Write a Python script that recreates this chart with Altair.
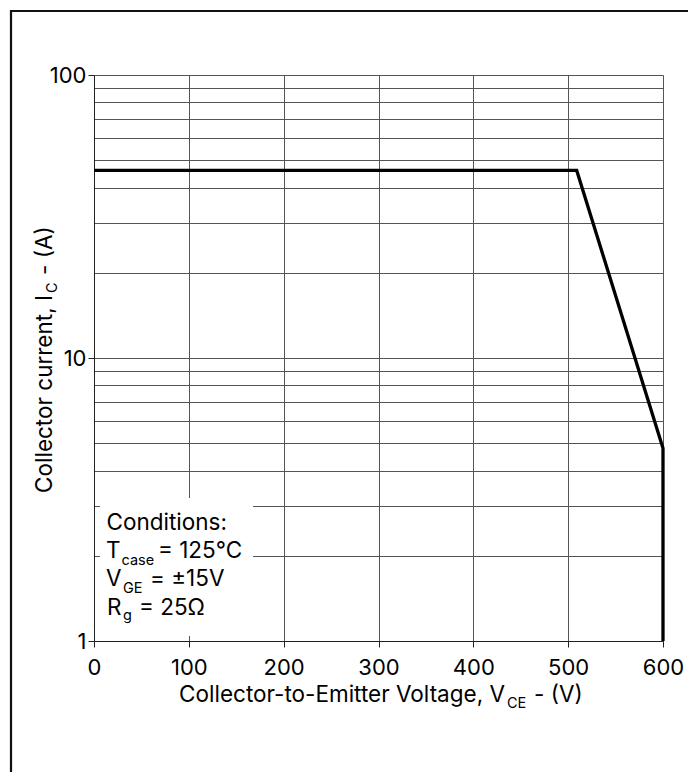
import altair as alt
import pandas as pd

# ---- data ----
vce = [0, 509, 600, 600]          # Collector-to-Emitter voltage (V)
ic = [46, 46, 4.8, 1]             # Collector current (A)
order = [0, 1, 2, 3]
x_ticks = [0, 100, 200, 300, 400, 500, 600]
y_grid = [1, 2, 3, 4, 5, 6, 7, 8, 9, 10, 20, 30, 40, 50, 60, 70, 80, 90, 100]
y_labels = [1, 10, 100]

df = pd.DataFrame({"vce": vce, "ic": ic, "order": order})

FONT = "Inter"
GRID = "#555555"
AXC = "#222222"
FS = 22
TS = 22.5
SUB = 14.5
W, H = 569, 566

xscale = alt.Scale(domain=[0, 600], nice=False, zero=False)
yscale = alt.Scale(type="log", domain=[1, 100], nice=False)

label_test = " || ".join(f"datum.value == {v}" for v in y_labels)

one = alt.Data(values=[{"k": 0}])

line = alt.Chart(df).mark_line(color="black", strokeWidth=3.3, strokeJoin="miter").encode(
    x=alt.X("vce:Q", scale=xscale,
            axis=alt.Axis(values=x_ticks, title=None, grid=True, gridColor=GRID, gridWidth=1,
                          tickSize=6, tickColor=AXC, domainColor=AXC, labelFont=FONT,
                          labelFontSize=FS, labelPadding=10, labelFlush=False,
                          labelColor="black", labelOverlap=False)),
    y=alt.Y("ic:Q", scale=yscale,
            axis=alt.Axis(values=y_grid, title=None, grid=True, gridColor=GRID, gridWidth=1,
                          tickSize=6, tickColor=AXC, domainColor=AXC, labelFont=FONT,
                          labelFontSize=FS, labelPadding=2, labelColor="black",
                          labelOverlap=False,
                          labelExpr=f"({label_test}) ? datum.label : ''",
                          tickOpacity={"condition": {"test": label_test, "value": 1}, "value": 0})),
    order="order:O",
)

# white background box for the conditions note
box = alt.Chart(one).mark_rect(color="white").encode(
    x=alt.value(6), x2=alt.value(159), y=alt.value(423), y2=alt.value(561)
)

# outer frame around the whole figure
frame = alt.Chart(one).mark_rect(fillOpacity=0, stroke="#111111", strokeWidth=2.2).encode(
    x=alt.value(-83), x2=alt.value(597), y=alt.value(-64), y2=alt.value(730)
)


def txt(s, x, y, size=TS, align="left", angle=0):
    kw = dict(text=s, font=FONT, fontSize=size, align=align, baseline="alphabetic", color="black")
    if angle:
        kw["angle"] = angle
    return alt.Chart(one).mark_text(**kw).encode(x=alt.value(x), y=alt.value(y))


texts = [
    # x-axis title
    txt("Collector-to-Emitter Voltage, V", 411, 627, align="right"),
    txt("CE", 413, 633, size=SUB),
    txt("- (V)", 440, 627),
    # y-axis title (rotated)
    txt("Collector current, I", -42, 220, align="right", angle=270),
    txt("C", -37, 218, size=SUB, angle=270),
    txt("- (A)", -42, 200, angle=270),
    # conditions note
    txt("Conditions:", 12.5, 455),
    txt("T", 12, 482.5),
    txt("case", 27.5, 490, size=SUB),
    txt("= 125°C", 64, 482.5),
    txt("V", 12, 510.5),
    txt("GE", 29, 518, size=SUB),
    txt("= ±15V", 56, 510.5),
    txt("R", 13, 540),
    txt("g", 29, 545, size=SUB),
    txt("= 25Ω", 45, 540),
]

chart = alt.layer(box, line, frame, *texts).properties(
    width=W, height=H,
    autosize=alt.AutoSizeParams(type="none"),
    padding={"left": 86, "top": 67, "right": 25, "bottom": 131},
).configure_view(stroke=None).configure(background="white")

chart.save("out.html", embed_options={"renderer": "svg", "actions": False})
